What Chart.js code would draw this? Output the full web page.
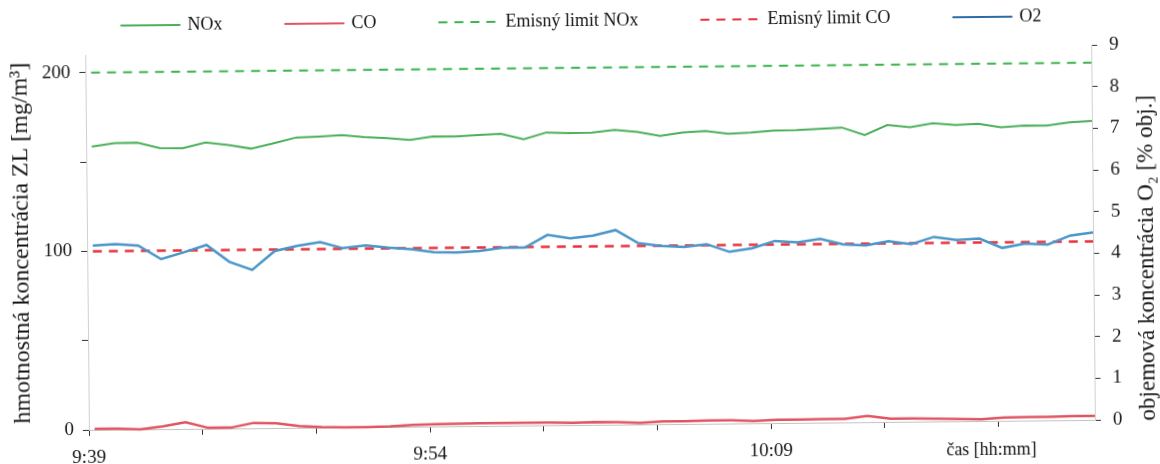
<!DOCTYPE html>
<html lang="sk">
<head>
<meta charset="utf-8">
<title>Koncentrácie NOx, CO a O2</title>
<script src="https://cdn.jsdelivr.net/npm/chart.js@4.4.1/dist/chart.umd.min.js"></script>
<style>
  html, body { margin: 0; padding: 0; background: #fff; overflow: hidden; }
  #wrap { width: 1160px; height: 464px; transform: rotate(-0.57deg); transform-origin: 50% 50%; }
  canvas { display: block; }
</style>
</head>
<body>
<div id="wrap"><canvas id="chart" width="1160" height="464"></canvas></div>
<script>
// Measurement timestamps (one sample per minute)
const times = [
  '9:39:15', '9:40:15', '9:41:15', '9:42:15', '9:43:15', '9:44:15', '9:45:15', '9:46:15',
  '9:47:15', '9:48:15', '9:49:15', '9:50:15', '9:51:15', '9:52:15', '9:53:15', '9:54:15',
  '9:55:15', '9:56:15', '9:57:15', '9:58:15', '9:59:15', '10:00:15', '10:01:15', '10:02:15',
  '10:03:15', '10:04:15', '10:05:15', '10:06:15', '10:07:15', '10:08:15', '10:09:15', '10:10:15',
  '10:11:15', '10:12:15', '10:13:15', '10:14:15', '10:15:15', '10:16:15', '10:17:15', '10:18:15',
  '10:19:15', '10:20:15', '10:21:15', '10:22:15', '10:23:15'
];

// NOx mass concentration [mg/m3]
const nox = [
  158.6, 160.4, 160.6, 157.4, 157.2, 160.3, 158.7, 156.6, 159.5, 162.6,
  163.0, 163.6, 162.4, 161.7, 160.6, 162.4, 162.2, 163.0, 163.5, 160.3,
  164.0, 163.5, 163.7, 165.1, 163.8, 161.4, 163.2, 164.0, 162.2, 162.8,
  163.8, 164.0, 164.5, 165.1, 160.7, 166.3, 164.9, 167.0, 165.9, 166.4,
  164.4, 165.2, 165.1, 166.8, 167.5
];

// CO mass concentration [mg/m3]
const co = [
  0.5, 0.5, 0.0, 1.5, 3.8, 0.5, 0.5, 3.0, 2.7, 1.0,
  0.3, 0.0, 0.0, 0.3, 1.0, 1.2, 1.4, 1.5, 1.5, 1.6,
  1.6, 1.2, 1.6, 1.4, 0.8, 1.6, 1.6, 1.8, 1.8, 1.2,
  1.8, 1.8, 2.0, 2.0, 3.5, 1.8, 1.8, 1.6, 1.2, 1.0,
  1.8, 2.0, 2.0, 2.2, 2.2
];

// O2 volume concentration [% obj.]
const o2 = [
  4.42, 4.45, 4.41, 4.08, 4.24, 4.41, 4.00, 3.80, 4.25, 4.37,
  4.45, 4.30, 4.36, 4.30, 4.26, 4.18, 4.17, 4.20, 4.27, 4.27,
  4.57, 4.48, 4.54, 4.67, 4.35, 4.28, 4.25, 4.31, 4.12, 4.20,
  4.37, 4.33, 4.41, 4.27, 4.24, 4.34, 4.26, 4.43, 4.35, 4.38,
  4.15, 4.25, 4.22, 4.43, 4.50
];

// Emission limits [mg/m3]
const noxLimit = 200;
const coLimit = 100;

// Axis labels
const startTime = '9:39';
const xTickLabels = ['9:39', '9:54', '10:09'];
const xTitle = 'čas [hh:mm]';
const leftTickLabels = ['0', '100', '200'];
const rightTickLabels = ['0', '1', '2', '3', '4', '5', '6', '7', '8', '9'];
const leftTitle = 'hmotnostná koncentrácia ZL [mg/m³]';
const rightTitle = 'objemová koncentrácia O₂ [% obj.]';

const seriesNames = ['NOx', 'CO', 'Emisný limit NOx', 'Emisný limit CO', 'O2'];

// minutes elapsed since the start of the axis
function toMinutes(t) {
  const p = t.split(':').map(Number);
  const s = startTime.split(':').map(Number);
  return (p[0] * 60 + p[1] + (p[2] || 0) / 60) - (s[0] * 60 + s[1]);
}

const xs = times.map(toMinutes);
const pts = vals => vals.map((v, i) => ({ x: xs[i], y: v }));
const limitLine = v => [{ x: xs[0], y: v }, { x: xs[xs.length - 1], y: v }];

const FONT = '"Liberation Serif", "Times New Roman", serif';
const TEXT = '#151515';

const xTickMap = {};
xTickLabels.forEach(l => { xTickMap[toMinutes(l)] = l; });

// legend, right-hand axis title and time-axis title
const decorations = {
  id: 'decorations',
  afterDraw(chart) {
    const ctx = chart.ctx;
    const area = chart.chartArea;
    ctx.save();

    // legend row
    ctx.font = '18px ' + FONT;
    const items = chart.data.datasets.map(ds => ({
      text: ds.label, color: ds.legendColor || ds.borderColor, dash: ds.borderDash || []
    }));
    const lineLen = 60, textGap = 7, itemGap = 62;
    let total = 0;
    items.forEach(it => { it.w = ctx.measureText(it.text).width; total += lineLen + textGap + it.w; });
    total += itemGap * (items.length - 1);
    let x = chart.width / 2 - total / 2 + 3;
    const ly = 21;
    items.forEach(it => {
      ctx.beginPath();
      ctx.setLineDash(it.dash);
      ctx.strokeStyle = it.color;
      ctx.lineWidth = 2;
      ctx.moveTo(x, ly);
      ctx.lineTo(x + lineLen, ly);
      ctx.stroke();
      ctx.setLineDash([]);
      ctx.fillStyle = TEXT;
      ctx.textAlign = 'left';
      ctx.textBaseline = 'middle';
      ctx.fillText(it.text, x + lineLen + textGap, ly);
      x += lineLen + textGap + it.w + itemGap;
    });

    // right axis title, reading bottom to top
    const yR = chart.scales.yO2;
    ctx.save();
    ctx.translate(yR.right - 13, (area.top + area.bottom) / 2 + 26);
    ctx.rotate(-Math.PI / 2);
    ctx.font = '23px ' + FONT;
    ctx.fillStyle = TEXT;
    ctx.textAlign = 'center';
    ctx.textBaseline = 'middle';
    ctx.fillText(rightTitle, 0, 0);
    ctx.restore();

    // time axis title, on the tick-label row
    const xScale = chart.scales.x;
    ctx.font = '18px ' + FONT;
    ctx.fillStyle = TEXT;
    ctx.textAlign = 'center';
    ctx.textBaseline = 'middle';
    ctx.fillText(xTitle, xScale.getPixelForValue(40) - 7, area.bottom + 29);

    ctx.restore();
  }
};

new Chart(document.getElementById('chart'), {
  type: 'line',
  data: {
    datasets: [
      {
        label: seriesNames[0], data: pts(nox), yAxisID: 'y',
        borderColor: '#4bb05a', borderWidth: 2, order: 2
      },
      {
        label: seriesNames[1], data: pts(co), yAxisID: 'y',
        borderColor: '#e05562', borderWidth: 2.5, order: 1
      },
      {
        label: seriesNames[2], data: limitLine(noxLimit), yAxisID: 'y',
        borderColor: '#3cb44c', borderWidth: 2, borderDash: [9, 7], order: 4
      },
      {
        label: seriesNames[3], data: limitLine(coLimit), yAxisID: 'y',
        borderColor: '#e8323c', borderWidth: 2.5, borderDash: [9, 7], order: 3
      },
      {
        label: seriesNames[4], data: pts(o2), yAxisID: 'yO2',
        borderColor: '#4a96c8', legendColor: '#2c6aa8', borderWidth: 2.5, order: 0
      }
    ]
  },
  options: {
    responsive: false,
    devicePixelRatio: 1,
    animation: false,
    layout: { padding: { top: 50, left: 0, right: 0, bottom: 0 } },
    elements: {
      point: { radius: 0, hoverRadius: 0 },
      line: { tension: 0, fill: false, borderCapStyle: 'butt' }
    },
    datasets: { line: { clip: 8 } },
    plugins: {
      legend: { display: false },
      tooltip: { enabled: false }
    },
    scales: {
      x: {
        type: 'linear',
        min: 0,
        max: toMinutes(times[times.length - 1]),
        afterFit(scale) { scale.height = 39; },
        grid: { drawOnChartArea: false, drawTicks: true, tickLength: 6, tickColor: '#333', color: '#333' },
        border: { display: true, color: '#c4c4c4' },
        ticks: {
          stepSize: 5,
          includeBounds: false,
          autoSkip: false,
          maxRotation: 0,
          padding: 11,
          color: TEXT,
          font: { family: FONT, size: 19 },
          callback: v => (xTickMap[v] !== undefined ? xTickMap[v] : '')
        }
      },
      y: {
        position: 'left',
        min: 0,
        max: 210,
        afterFit(scale) { scale.width = 87; },
        grid: { drawOnChartArea: false, drawTicks: true, tickLength: 6, tickColor: '#333', color: '#333' },
        border: { display: true, color: '#d0d0d0' },
        ticks: {
          stepSize: 50,
          includeBounds: false,
          padding: 9,
          color: TEXT,
          font: { family: FONT, size: 19 },
          callback: v => (leftTickLabels.includes(String(v)) ? String(v) : '')
        },
        title: {
          display: true,
          text: leftTitle,
          color: TEXT,
          font: { family: FONT, size: 24 },
          padding: { top: 7, bottom: 0 }
        }
      },
      yO2: {
        position: 'right',
        min: 0,
        max: 9,
        afterFit(scale) { scale.width = 67; },
        grid: { drawOnChartArea: false, drawTicks: true, tickLength: 6, tickColor: '#333', color: '#333' },
        border: { display: true, color: '#d0d0d0' },
        ticks: {
          stepSize: 1,
          includeBounds: false,
          padding: 12,
          color: TEXT,
          font: { family: FONT, size: 19 },
          callback: v => rightTickLabels[v]
        }
      }
    }
  },
  plugins: [decorations]
});
</script>
</body>
</html>
